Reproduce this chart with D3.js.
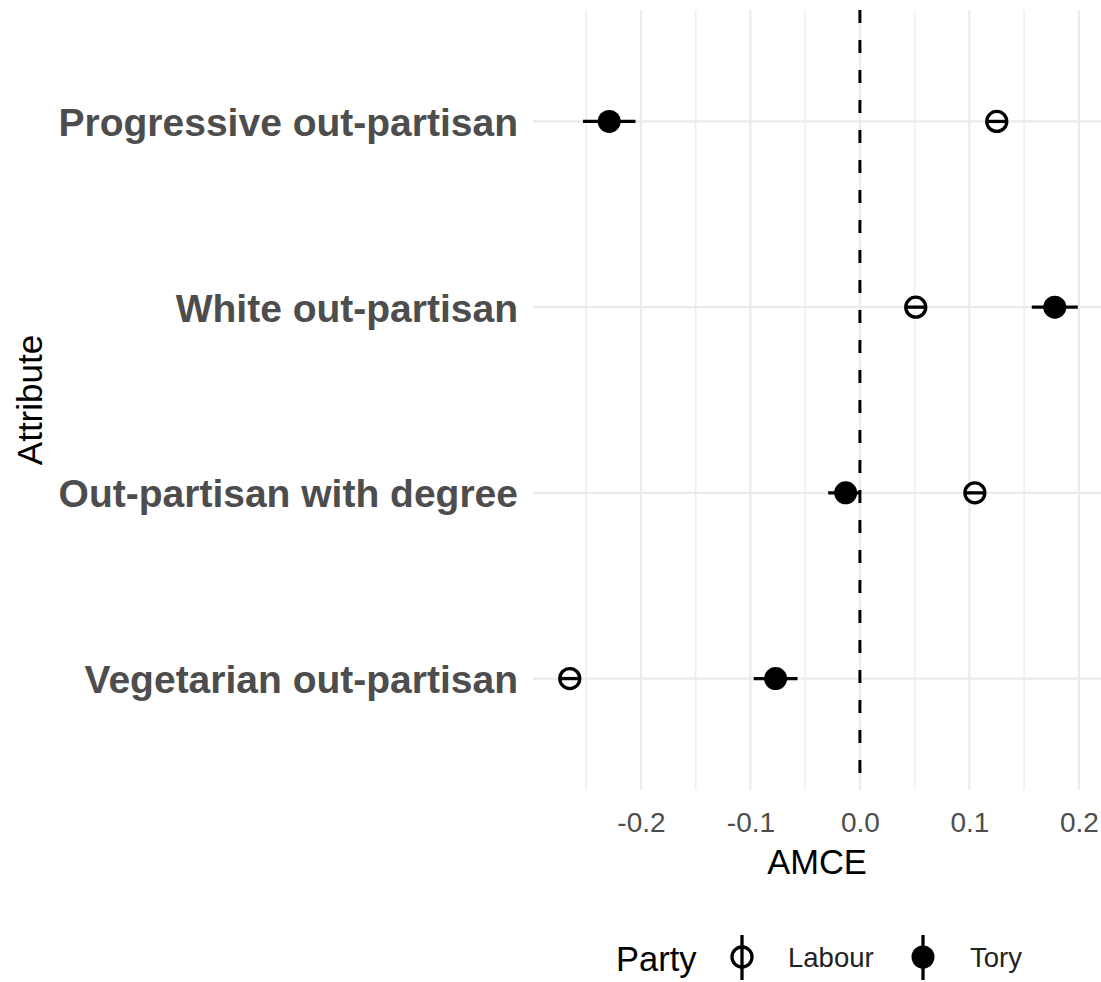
<!DOCTYPE html>
<html>
<head>
<meta charset="utf-8">
<script src="https://cdn.jsdelivr.net/npm/d3@7"></script>
<style>
  body { margin: 0; background: #fff; }
  svg { display: block; font-family: "Liberation Sans", Arial, Helvetica, sans-serif; }
</style>
</head>
<body>
<svg width="1101" height="982"></svg>
<script>
// data
const categories = ['Progressive out-partisan', 'White out-partisan', 'Out-partisan with degree', 'Vegetarian out-partisan'];
const labourEst = [0.125, 0.051, 0.105, -0.265];
const labourLow = [0.116, 0.042, 0.096, -0.274];
const labourHigh = [0.134, 0.060, 0.114, -0.256];
const toryEst = [-0.229, 0.178, -0.013, -0.077];
const toryLow = [-0.253, 0.157, -0.029, -0.097];
const toryHigh = [-0.205, 0.199, 0.001, -0.057];
const xTicks = [-0.2, -0.1, 0.0, 0.1, 0.2];
const xMinorTicks = [-0.25, -0.15, -0.05, 0.05, 0.15];
const parties = ['Labour', 'Tory'];

const svg = d3.select('svg');
const width = +svg.attr('width');
const height = +svg.attr('height');

//panel box
const panelLeft = 533, panelRight = 1101, panelTop = 10, panelBottom = 790;

const x = d3.scaleLinear().domain([-0.2986, 0.2202]).range([panelLeft, panelRight]);
const y = d3.scalePoint().domain(categories).range([panelTop, panelBottom]).padding(0.6);

svg.append('rect').attr('width', width).attr('height', height).attr('fill', '#fff');

const grid = svg.append('g');
//minor grid
grid.selectAll('line.minor').data(xMinorTicks).enter().append('line')
    .attr('x1', d => x(d)).attr('x2', d => x(d))
    .attr('y1', panelTop).attr('y2', panelBottom)
    .attr('stroke', '#ededed').attr('stroke-width', 1.5);
//major grid
grid.selectAll('line.majorx').data(xTicks).enter().append('line')
    .attr('x1', d => x(d)).attr('x2', d => x(d))
    .attr('y1', panelTop).attr('y2', panelBottom)
    .attr('stroke', '#ebebeb').attr('stroke-width', 2.2);
grid.selectAll('line.majory').data(categories).enter().append('line')
    .attr('x1', panelLeft).attr('x2', panelRight)
    .attr('y1', d => y(d)).attr('y2', d => y(d))
    .attr('stroke', '#ebebeb').attr('stroke-width', 2.2);

//zero line
svg.append('line')
    .attr('x1', x(0)).attr('x2', x(0))
    .attr('y1', panelTop).attr('y2', panelBottom)
    .attr('stroke', '#000').attr('stroke-width', 3)
    .attr('stroke-dasharray', '13,17');

//x axis labels
const xAxis = d3.axisBottom(x).tickValues(xTicks).tickFormat(d3.format('.1f')).tickSize(0).tickPadding(0);
const xg = svg.append('g').attr('transform', `translate(0,${panelBottom})`).call(xAxis);
xg.select('.domain').remove();
xg.selectAll('text')
    .attr('y', 42).attr('dy', null)
    .attr('font-size', 28).attr('fill', '#4d4d4d')
    .attr('font-family', '"Liberation Sans", Arial, sans-serif')
    .text(d => d3.format('.1f')(d).replace('−', '-'));

//y axis labels
const yAxis = d3.axisLeft(y).tickSize(0).tickPadding(0);
const yg = svg.append('g').attr('transform', `translate(${panelLeft - 15},0)`).call(yAxis);
yg.select('.domain').remove();
yg.selectAll('text')
    .attr('x', 0).attr('dy', '0.36em')
    .attr('font-size', 39).attr('font-weight', 'bold').attr('fill', '#4d4d4d')
    .attr('font-family', '"Liberation Sans", Arial, sans-serif');

//axis titles
svg.append('text')
    .attr('x', (panelLeft + panelRight) / 2).attr('y', 874)
    .attr('text-anchor', 'middle')
    .attr('font-size', 34.5).attr('fill', '#000')
    .text('AMCE');
svg.append('text')
    .attr('transform', `translate(42,${(panelTop + panelBottom) / 2}) rotate(-90)`)
    .attr('text-anchor', 'middle')
    .attr('font-size', 35).attr('fill', '#000')
    .text('Attribute');

//points
const rows = categories.map((c, i) => ({
    cat: c,
    labour: { est: labourEst[i], lo: labourLow[i], hi: labourHigh[i] },
    tory: { est: toryEst[i], lo: toryLow[i], hi: toryHigh[i] }
}));

const marks = svg.append('g');
//Labour: open circle
marks.selectAll('line.lab').data(rows).enter().append('line')
    .attr('x1', d => x(d.labour.lo)).attr('x2', d => x(d.labour.hi))
    .attr('y1', d => y(d.cat)).attr('y2', d => y(d.cat))
    .attr('stroke', '#000').attr('stroke-width', 3.3);
marks.selectAll('circle.lab').data(rows).enter().append('circle')
    .attr('cx', d => x(d.labour.est)).attr('cy', d => y(d.cat))
    .attr('r', 10).attr('fill', 'none')
    .attr('stroke', '#000').attr('stroke-width', 3.3);
//Tory: filled circle
marks.selectAll('line.tory').data(rows).enter().append('line')
    .attr('x1', d => x(d.tory.lo)).attr('x2', d => x(d.tory.hi))
    .attr('y1', d => y(d.cat)).attr('y2', d => y(d.cat))
    .attr('stroke', '#000').attr('stroke-width', 3.3);
marks.selectAll('circle.tory').data(rows).enter().append('circle')
    .attr('cx', d => x(d.tory.est)).attr('cy', d => y(d.cat))
    .attr('r', 11.5).attr('fill', '#000');

//legend
const legend = svg.append('g');
legend.append('text')
    .attr('x', 616).attr('y', 971)
    .attr('font-size', 34.5).attr('fill', '#000')
    .text('Party');
const keyX = [742, 923];
const textX = [788, 970];
parties.forEach((p, i) => {
    const k = legend.append('g').attr('transform', `translate(${keyX[i]},957)`);
    k.append('line').attr('y1', -22).attr('y2', 23)
        .attr('stroke', '#000').attr('stroke-width', 3.3);
    k.append('circle').attr('r', p === 'Tory' ? 11.5 : 10)
        .attr('fill', p === 'Tory' ? '#000' : 'none')
        .attr('stroke', p === 'Tory' ? 'none' : '#000')
        .attr('stroke-width', 3.3);
    legend.append('text')
        .attr('x', textX[i]).attr('y', 967)
        .attr('font-size', 27.5).attr('fill', '#222')
        .text(p);
});
</script>
</body>
</html>
